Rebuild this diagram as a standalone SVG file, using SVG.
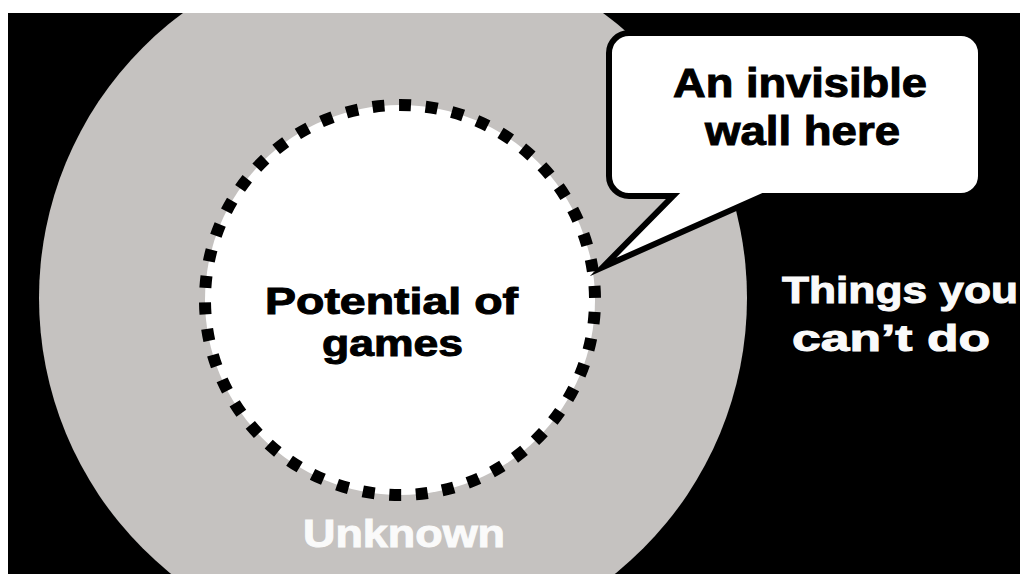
<svg xmlns="http://www.w3.org/2000/svg" width="1020" height="574" viewBox="0 0 1020 574">
  <style>
    .t { font-family: "Liberation Sans", Arial, sans-serif; font-weight: bold; }
    .dark { fill: #000; stroke: #000; stroke-width: 1; }
    .light { fill: #fafafa; stroke: #fafafa; stroke-width: 1; }
  </style>
  <defs>
    <clipPath id="frame">
      <rect x="8" y="13" width="1012" height="561"/>
    </clipPath>
  </defs>
  <rect x="0" y="0" width="1020" height="574" fill="#ffffff"/>
  <g clip-path="url(#frame)">
    <rect x="8" y="13" width="1012" height="561" fill="#000000"/>
    <g id="unknown-area">
      <circle cx="393" cy="298" r="354" fill="#c5c2c0"/>
      <text class="t light" x="303" y="547" font-size="39" textLength="202" lengthAdjust="spacingAndGlyphs">Unknown</text>
    </g>
    <g id="potential">
      <circle cx="400" cy="300" r="195" fill="#ffffff" stroke="#000000" stroke-width="12" stroke-dasharray="12 14.635" stroke-dashoffset="-12"/>
      <text class="t dark" x="265" y="314" font-size="37" textLength="253" lengthAdjust="spacingAndGlyphs">Potential of</text>
      <text class="t dark" x="322" y="356" font-size="37" textLength="141" lengthAdjust="spacingAndGlyphs">games</text>
    </g>
    <g id="cant-do">
      <text class="t light" x="782" y="303" font-size="37" textLength="236" lengthAdjust="spacingAndGlyphs">Things you</text>
      <text class="t light" x="792" y="351" font-size="37" textLength="198" lengthAdjust="spacingAndGlyphs">can’t do</text>
    </g>
    <g id="bubble">
      <path d="M629,33 H961 A20,20 0 0 1 981,53 V176 A20,20 0 0 1 961,196 H763 L603,267 L673,196 H629 A20,20 0 0 1 609,176 V53 A20,20 0 0 1 629,33 Z" fill="#ffffff" stroke="#000000" stroke-width="6" stroke-linejoin="miter" stroke-miterlimit="10"/>
      <text class="t dark" x="673" y="97" font-size="40" textLength="254" lengthAdjust="spacingAndGlyphs">An invisible</text>
      <text class="t dark" x="705" y="145" font-size="40" textLength="195" lengthAdjust="spacingAndGlyphs">wall here</text>
    </g>
    <g id="connectors"/>
  </g>
</svg>
